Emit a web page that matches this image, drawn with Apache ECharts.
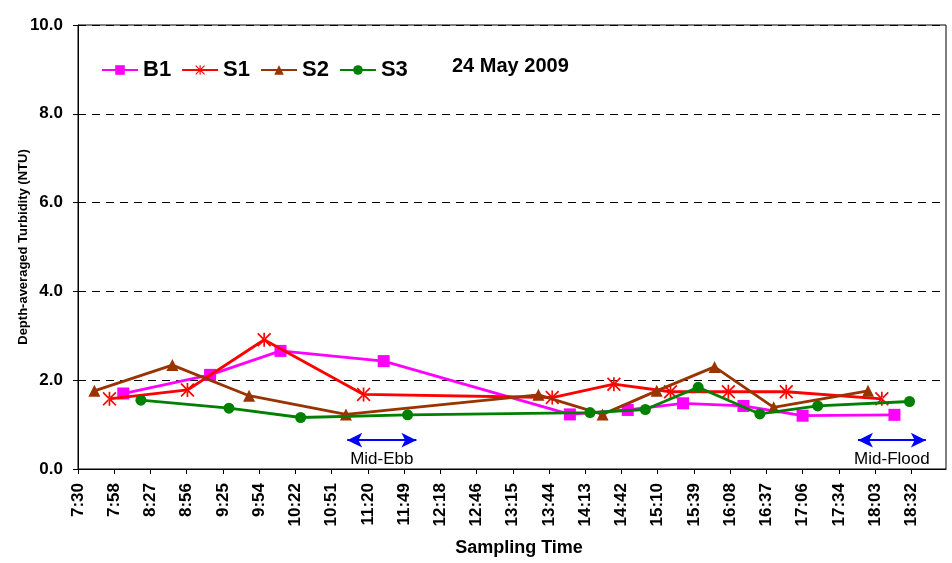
<!DOCTYPE html>
<html>
<head>
<meta charset="utf-8">
<script src="https://cdn.jsdelivr.net/npm/echarts@6/dist/echarts.min.js"></script>
<style>html,body{margin:0;padding:0;background:#fff}#c{width:952px;height:563px}</style>
</head>
<body>
<div id="c"></div>
<script>
// ---- data (times as HH:MM, turbidity in NTU) ----
const seriesNames = ['B1', 'S1', 'S2', 'S3'];
const b1Times = ['8:06','9:15','10:11','11:33','14:01','14:47','15:31','16:19','17:06','18:19'];
const b1Values = [1.70, 2.12, 2.66, 2.43, 1.23, 1.33, 1.48, 1.42, 1.20, 1.22];
const s1Times = ['7:55','8:57','9:58','11:17','13:47','14:36','15:21','16:07','16:53','18:09'];
const s1Values = [1.58, 1.78, 2.91, 1.68, 1.61, 1.91, 1.74, 1.74, 1.74, 1.58];
const s2Times = ['7:43','8:45','9:46','11:03','13:36','14:27','15:10','15:56','16:43','17:58'];
const s2Values = [1.76, 2.34, 1.65, 1.23, 1.67, 1.23, 1.76, 2.30, 1.39, 1.76];
const s3Times = ['8:20','9:30','10:27','11:52','14:17','15:01','15:43','16:32','17:18','18:31'];
const s3Values = [1.55, 1.37, 1.16, 1.22, 1.27, 1.34, 1.84, 1.24, 1.42, 1.52];
const tideLabels = ['Mid-Ebb', 'Mid-Flood'];
const tideStart = ['11:04', '17:50'];
const tideEnd = ['11:59', '18:44'];
const tideLevel = 0.65;
const dateLabel = '24 May 2009';
const axisStart = '7:30';   // x axis origin
const axisEnd = '19:00';
const tickStepMin = 28.8;   // Excel major unit 0.02 day
const yTicks = [0, 2, 4, 6, 8, 10];

function toMin(t) { const p = t.split(':'); return (+p[0]) * 60 + (+p[1]); }
const origin = toMin(axisStart);
function rel(t) { return toMin(t) - origin; }
function pairs(times, vals) { return times.map((t, i) => [rel(t), vals[i]]); }

const colors = ['#FF00FF', '#FF0000', '#993300', '#008000'];
const star = 'path://M4.4,0L5.6,0L5.6,10L4.4,10Z M0,0.85L0.85,0L10,9.15L9.15,10Z M10,0.85L9.15,0L0,9.15L0.85,10Z';
const symbols = ['rect', star, 'triangle', 'circle'];
const sizes = [12, 14, 12, 11];
const allData = [pairs(b1Times, b1Values), pairs(s1Times, s1Values), pairs(s2Times, s2Values), pairs(s3Times, s3Values)];

const series = seriesNames.map((n, i) => ({
  name: n, type: 'line', data: allData[i], symbol: symbols[i], symbolSize: sizes[i],
  lineStyle: { color: colors[i], width: 2.8 },
  itemStyle: { color: colors[i], borderWidth: 0 },
  z: 3 + i
}));

const F = 'Liberation Sans, Arial, sans-serif';
series.push({
  name: 'tide', type: 'line', data: [], silent: true,
  markLine: {
    silent: true, symbol: ['arrow', 'arrow'], symbolSize: [11, 15],
    lineStyle: { color: '#0000FF', width: 2.2, type: 'solid' },
    label: { show: true, position: 'insideMiddleBottom', distance: 11, color: '#000', fontSize: 17, fontFamily: F, formatter: p => p.name },
    data: tideLabels.map((l, i) => [
      { name: l, coord: [rel(tideStart[i]), tideLevel] },
      { coord: [rel(tideEnd[i]), tideLevel] }
    ])
  }
});

const chart = echarts.init(document.getElementById('c'), null, { renderer: 'canvas' });
chart.setOption({
  animation: false,
  textStyle: { fontFamily: F },
  grid: { left: 78, right: 6, top: 25, bottom: 94, show: true, borderColor: '#000', borderWidth: 1, outerBoundsMode: 'none', containLabel: false },
  legend: {
    data: seriesNames, left: 96, top: 54, itemWidth: 36, itemHeight: 12, itemGap: 10,
    textStyle: { fontSize: 22, fontWeight: 'bold', color: '#000', fontFamily: F }
  },
  graphic: [{ type: 'text', left: 452, top: 56, style: { text: dateLabel, font: 'bold 20px ' + F, fill: '#000' } }],
  xAxis: {
    type: 'value', min: 0, max: rel(axisEnd), interval: tickStepMin,
    name: 'Sampling Time', nameLocation: 'middle', nameGap: 70,
    nameTextStyle: { fontSize: 18, fontWeight: 'bold', color: '#000', padding: [0, 0, 0, 14] },
    axisLine: { lineStyle: { color: '#000', width: 1 } },
    axisTick: { show: true, length: 5, lineStyle: { color: '#000' } },
    splitLine: { show: false },
    axisLabel: {
      rotate: 90, margin: 14, fontSize: 17, fontWeight: 'bold', color: '#000', showMaxLabel: false,
      formatter: v => { const t = origin + v + 1e-6; const h = Math.floor(t / 60); const m = Math.floor(t % 60); return h + ':' + (m < 10 ? '0' : '') + m; }
    }
  },
  yAxis: {
    type: 'value', min: yTicks[0], max: yTicks[yTicks.length - 1], interval: yTicks[1] - yTicks[0],
    name: 'Depth-averaged Turbidity (NTU)', nameLocation: 'middle', nameGap: 48, nameMoveOverlap: false,
    nameTextStyle: { fontSize: 13, fontWeight: 'bold', color: '#000' },
    axisLine: { show: true, lineStyle: { color: '#000', width: 1 } },
    axisTick: { show: true, length: 5, lineStyle: { color: '#000' } },
    splitLine: { show: true, lineStyle: { color: '#000', type: [8, 6], width: 1 } },
    axisLabel: { fontSize: 17, fontWeight: 'bold', color: '#000', margin: 15, formatter: v => v.toFixed(1) }
  },
  series: series
});
</script>
</body>
</html>
